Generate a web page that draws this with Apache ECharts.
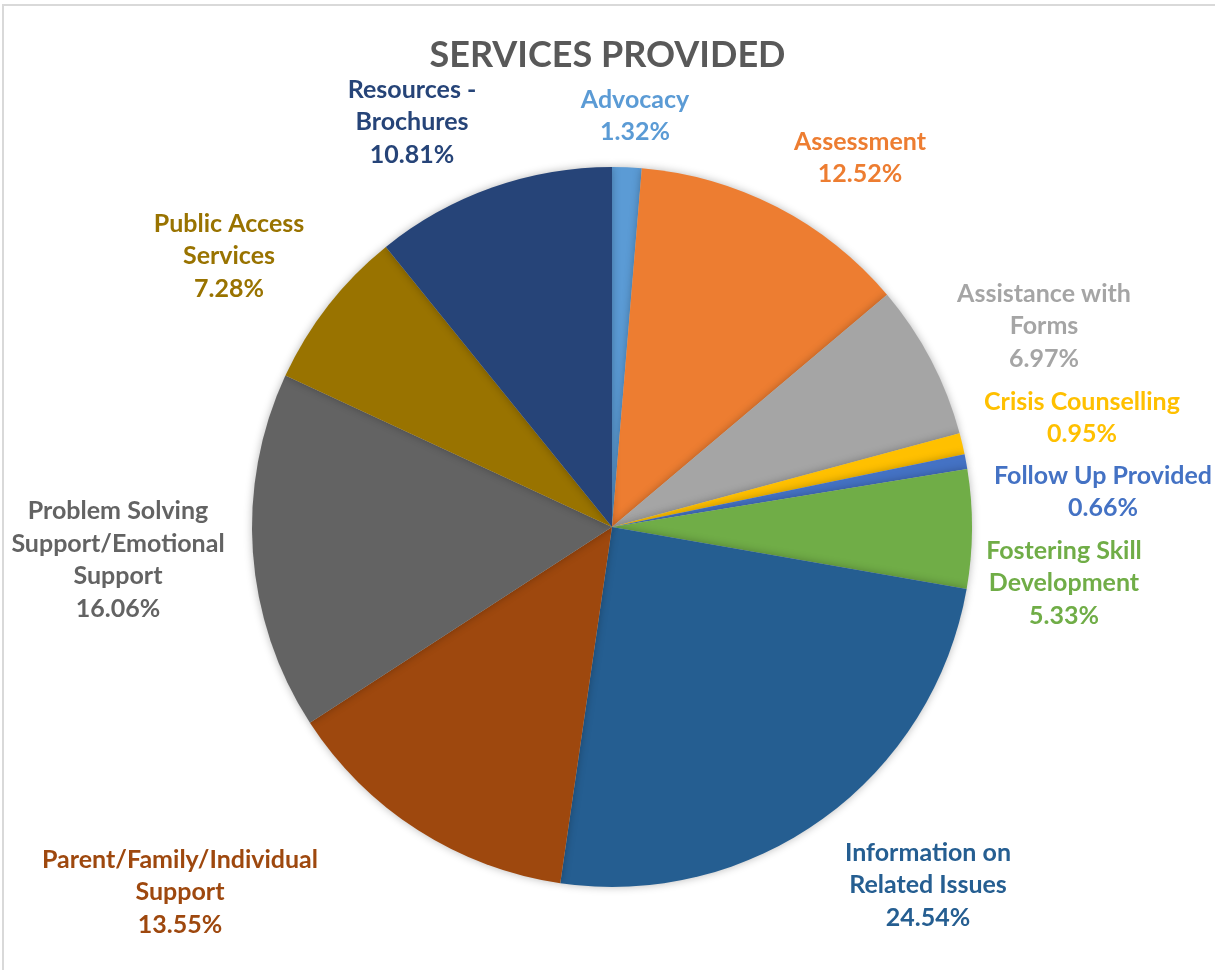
<!DOCTYPE html>
<html>
<head>
<meta charset="utf-8">
<script src="https://cdn.jsdelivr.net/npm/echarts@6/dist/echarts.min.js"></script>
<style>
  html, body { margin: 0; padding: 0; background: #fff; }
  #frame { position: absolute; left: 2px; top: 4px; width: 1213px; height: 966px;
           border-top: 2px solid #d9d9d9; border-left: 2px solid #d9d9d9; box-sizing: border-box; }
  #chart { position: absolute; left: 0; top: 0; width: 1215px; height: 970px; }
</style>
</head>
<body>
<div id="frame"></div>
<div id="chart"></div>
<script>
// Service categories (line breaks as shown in the labels)
const categories = [
  'Advocacy',
  'Assessment',
  'Assistance with\nForms',
  'Crisis Counselling',
  'Follow Up Provided',
  'Fostering Skill\nDevelopment',
  'Information on\nRelated Issues',
  'Parent/Family/Individual\nSupport',
  'Problem Solving\nSupport/Emotional\nSupport',
  'Public Access\nServices',
  'Resources -\nBrochures'
];

// Share of services provided, in percent
const shares = [1.32, 12.52, 6.97, 0.95, 0.66, 5.33, 24.54, 13.55, 16.06, 7.28, 10.81];

// Slice and label colours
const colors = ['#5B9BD5', '#ED7D31', '#A5A5A5', '#FFC000', '#4472C4', '#70AD47',
                '#255E91', '#9E480E', '#636363', '#997300', '#264478'];

// Label block centres (px)
const labelCenters = [
  [635, 116], [860, 158], [1044, 326], [1082, 418], [1103, 492], [1064, 583],
  [928, 885], [180, 892], [118, 560], [229, 256], [412, 122]
];

const FONT = 'Lato, "Open Sans", sans-serif';

const chart = echarts.init(document.getElementById('chart'), null, { renderer: 'canvas' });

chart.setOption({
  animation: false,
  backgroundColor: 'transparent',
  title: {
    text: 'SERVICES PROVIDED',
    left: 'center',
    top: 32,
    textStyle: { fontFamily: FONT, fontSize: 36, fontWeight: 'bold', color: '#595959' }
  },
  series: [{
    type: 'pie',
    center: [612, 527],
    radius: [0, 360],
    startAngle: 90,
    clockwise: true,
    avoidLabelOverlap: false,
    itemStyle: {
      borderWidth: 0,
      shadowBlur: 8,
      shadowColor: 'rgba(0,0,0,0.28)'
    },
    labelLine: { show: false },
    label: {
      show: true,
      position: 'outside',
      fontFamily: FONT,
      fontSize: 25,
      fontWeight: 'bold',
      lineHeight: 32.5,
      align: 'center',
      formatter: p => p.name + '\n' + p.value.toFixed(2) + '%'
    },
    labelLayout: params => {
      const c = labelCenters[params.dataIndex];
      return { x: c[0], y: c[1], align: 'center', verticalAlign: 'middle' };
    },
    data: categories.map((name, i) => ({
      name: name,
      value: shares[i],
      itemStyle: { color: colors[i] },
      label: { color: colors[i] }
    }))
  }]
});
</script>
</body>
</html>
